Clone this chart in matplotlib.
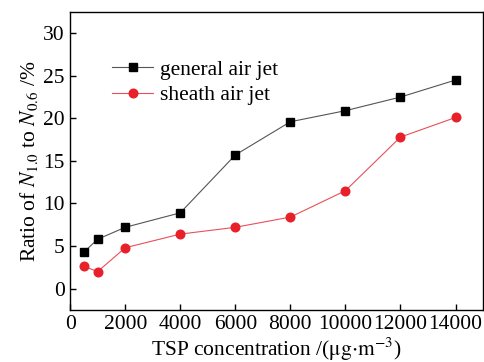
import matplotlib
matplotlib.use("Agg")
import matplotlib.pyplot as plt

tsp = [500, 1000, 2000, 4000, 6000, 8000, 10000, 12000, 14000]
general_jet = [4.3, 5.8, 7.2, 8.9, 15.7, 19.6, 20.9, 22.5, 24.5]
sheath_jet = [2.6, 2.0, 4.8, 6.4, 7.2, 8.4, 11.5, 17.8, 20.1]

plt.rcParams['font.family'] = 'Liberation Serif'
plt.rcParams['mathtext.fontset'] = 'stix'
plt.rcParams['font.size'] = 15.5

fig = plt.figure(figsize=(4.84, 3.62), dpi=100)
ax = fig.add_axes([0.145, 0.144, 0.853, 0.823])

ax.plot(tsp, general_jet, color='#555555', lw=0.8, marker='s', ms=5.2,
        mfc='black', mec='black', label='general air jet')
ax.plot(tsp, sheath_jet, color='#e8505a', lw=0.8, marker='o', ms=6.2,
        mfc='#e8202a', mec='#e8202a', label='sheath air jet')

ax.set_xlim(0, 15000)
ax.set_ylim(-2.5, 32.5)
ax.set_xticks(range(0, 14001, 2000))
ax.set_yticks(range(0, 31, 5))
ax.tick_params(direction='in', length=4, width=1, labelsize=15.5, pad=4)
for s in ax.spines.values():
    s.set_linewidth(1.0)

ax.set_xlabel(r'TSP concentration /($\mathrm{\mu g{\cdot}m^{-3}}$)', labelpad=1)
ax.set_ylabel(r'Ratio of $N_{1.0}$ to $N_{0.6}$ /%', labelpad=2)

ax.legend(loc='upper left', bbox_to_anchor=(0.055, 0.905), frameon=False,
          handlelength=1.9, handletextpad=0.3, labelspacing=0.25, fontsize=15.5)

fig.savefig('out.png', dpi=100)
